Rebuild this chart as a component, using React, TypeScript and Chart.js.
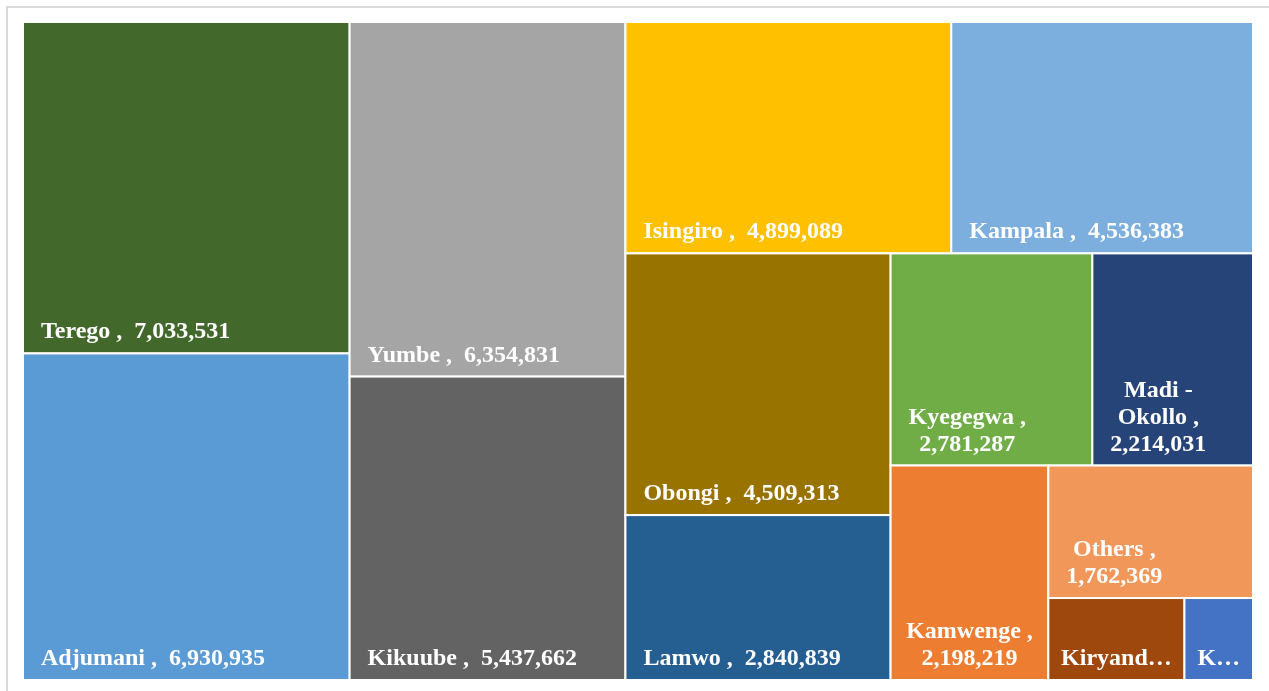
import React, { useEffect, useRef } from "react";
import { Chart, registerables } from "chart.js";

Chart.register(...registerables);

const districts = [
  "Terego",
  "Adjumani",
  "Yumbe",
  "Kikuube",
  "Isingiro",
  "Kampala",
  "Obongi",
  "Lamwo",
  "Kyegegwa",
  "Madi - Okollo",
  "Kamwenge",
  "Others",
  "Kiryandongo",
  "Koboko",
];

const amounts = [
  7033531, 6930935, 6354831, 5437662, 4899089, 4536383, 4509313, 2840839,
  2781287, 2214031, 2198219, 1762369, 725000, 365000,
];

const colors = [
  "#43682B",
  "#5B9BD5",
  "#A5A5A5",
  "#636363",
  "#FFC000",
  "#7CAFDD",
  "#997300",
  "#255E91",
  "#70AD47",
  "#264478",
  "#ED7D31",
  "#F1975A",
  "#9E480E",
  "#4472C4",
];

type R = { x: number; y: number; w: number; h: number };

function worst(row: number[], side: number): number {
  const s = row.reduce((a, b) => a + b, 0);
  const mx = Math.max(...row);
  const mn = Math.min(...row);
  return Math.max((side * side * mx) / (s * s), (s * s) / (side * side * mn));
}

function squarify(areas: number[], rect: R): R[] {
  const out: R[] = [];
  let i = 0;
  let r = { ...rect };
  while (i < areas.length) {
    const side = Math.min(r.w, r.h);
    let row = [areas[i]];
    let j = i + 1;
    while (j < areas.length) {
      const cand = [...row, areas[j]];
      if (worst(cand, side) <= worst(row, side)) {
        row = cand;
        j++;
      } else break;
    }
    const s = row.reduce((a, b) => a + b, 0);
    if (r.w >= r.h) {
      const cw = s / r.h;
      let yy = r.y;
      for (const a of row) {
        const hh = a / cw;
        out.push({ x: r.x, y: yy, w: cw, h: hh });
        yy += hh;
      }
      r = { x: r.x + cw, y: r.y, w: r.w - cw, h: r.h };
    } else {
      const rh = s / r.w;
      let xx = r.x;
      for (const a of row) {
        const ww = a / rh;
        out.push({ x: xx, y: r.y, w: ww, h: rh });
        xx += ww;
      }
      r = { x: r.x, y: r.y + rh, w: r.w, h: r.h - rh };
    }
    i = j;
  }
  return out;
}

const FONT = "bold 24px 'Liberation Serif', 'Times New Roman', serif";

function wrapLabel(ctx: CanvasRenderingContext2D, text: string, avail: number, truncAvail: number): string[] {
  const words = text.split(" ");
  const first = words[0];
  if (ctx.measureText(first).width > avail) {
    let t = first;
    while (t.length > 0 && ctx.measureText(t + "…").width > truncAvail) t = t.slice(0, -1);
    return [t + "…"];
  }
  const lines: string[] = [];
  let cur = first;
  for (let k = 1; k < words.length; k++) {
    const test = cur + " " + words[k];
    if (ctx.measureText(test.trim()).width <= avail) cur = test;
    else {
      lines.push(cur.trim());
      cur = words[k];
    }
  }
  lines.push(cur.trim());
  return lines.filter((l) => l.length > 0);
}

const treemapPlugin = {
  id: "treemapCells",
  afterDatasetsDraw(chart: any) {
    const xs = chart.scales.x;
    const ys = chart.scales.y;
    const W = xs.width;
    const H = ys.height;
    const total = amounts.reduce((a, b) => a + b, 0);
    const areas = amounts.map((v) => (v * W * H) / total);
    const rects = squarify(areas, { x: 0, y: 0, w: W, h: H });
    const ctx: CanvasRenderingContext2D = chart.ctx;
    ctx.save();
    rects.forEach((r, i) => {
      const x0 = xs.getPixelForValue(r.x / W);
      const x1 = xs.getPixelForValue((r.x + r.w) / W);
      const y0 = ys.getPixelForValue(r.y / H);
      const y1 = ys.getPixelForValue((r.y + r.h) / H);
      const left = Math.min(x0, x1);
      const top = Math.min(y0, y1);
      const w = Math.abs(x1 - x0);
      const h = Math.abs(y1 - y0);
      ctx.fillStyle = colors[i];
      ctx.fillRect(left, top, w, h);
      ctx.strokeStyle = "#FFFFFF";
      ctx.lineWidth = 2;
      ctx.strokeRect(left, top, w, h);
    });
    ctx.font = FONT;
    ctx.fillStyle = "#FFFFFF";
    ctx.textBaseline = "alphabetic";
    rects.forEach((r, i) => {
      const x0 = xs.getPixelForValue(r.x / W);
      const x1 = xs.getPixelForValue((r.x + r.w) / W);
      const y1 = ys.getPixelForValue((r.y + r.h) / H);
      const left = Math.min(x0, x1);
      const w = Math.abs(x1 - x0);
      const bottom = y1;
      const label = `${districts[i]} ,  ${amounts[i].toLocaleString("en-US")}`;
      const lines = wrapLabel(ctx, label, w - 24, w - 20);
      const widths = lines.map((l) => ctx.measureText(l).width);
      const blockW = Math.max(...widths);
      const pad = blockW + 36 <= w ? 18 : Math.max(2, (w - blockW) / 2);
      const lh = 27;
      const n = lines.length;
      lines.forEach((l, k) => {
        const baseline = bottom - 15 - (n - 1 - k) * lh;
        const lx = left + pad + (blockW - widths[k]) / 2;
        ctx.textAlign = "left";
        ctx.fillText(l, lx, baseline);
      });
    });
    ctx.restore();
  },
};

export default function App() {
  const ref = useRef<HTMLCanvasElement | null>(null);
  useEffect(() => {
    document.body.style.margin = "0";
    if (!ref.current) return;
    const chart = new Chart(ref.current, {
      type: "scatter",
      data: { datasets: [{ data: [] }] },
      options: {
        animation: false,
        responsive: false,
        maintainAspectRatio: false,
        layout: { padding: { left: 23, top: 22, right: 16, bottom: 11 } },
        plugins: { legend: { display: false }, tooltip: { enabled: false } },
        scales: {
          x: { type: "linear", min: 0, max: 1, display: false },
          y: { type: "linear", min: 0, max: 1, reverse: true, display: false },
        },
      },
      plugins: [treemapPlugin],
    });
    return () => chart.destroy();
  }, []);
  return (
    <div style={{ position: "fixed", left: 0, top: 0, width: 1269, height: 691, background: "#fff", overflow: "hidden" }}>
      <div
        style={{
          position: "absolute",
          left: 6,
          top: 6,
          width: 1300,
          height: 720,
          borderLeft: "2px solid #D9D9D9",
          borderTop: "2px solid #D9D9D9",
          boxSizing: "border-box",
        }}
      />
      <canvas ref={ref} width={1269} height={691} style={{ position: "absolute", left: 0, top: 0, width: 1269, height: 691 }} />
    </div>
  );
}
